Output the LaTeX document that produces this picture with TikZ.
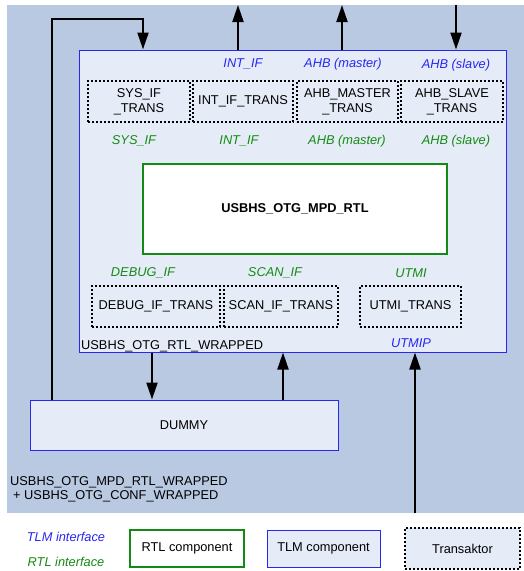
\documentclass[tikz,border=0pt]{standalone}
\usepackage{fontspec}
\setmainfont{Liberation Sans}
\usetikzlibrary{arrows.meta}

\definecolor{bgblue}{HTML}{B8C9E1}
\definecolor{tlmfill}{HTML}{E6ECF7}
\definecolor{tlmblue}{HTML}{2626F5}
\definecolor{rtlgreen}{HTML}{138A13}

\begin{document}
\begin{tikzpicture}[x=1pt,y=-1pt]
    \tikzstyle{every node}=[font=\fontsize{12.8}{15}\selectfont, inner sep=0pt, align=center, text=black]
    \tikzstyle{tlm}=[rectangle, draw=tlmblue, fill=tlmfill, line width=1pt]
    \tikzstyle{rtl}=[rectangle, draw=rtlgreen, fill=white, line width=2pt]
    \tikzstyle{trans}=[rectangle, draw=black, fill=tlmfill, line width=1.6pt, dash pattern=on 2pt off 2pt]
    \tikzstyle{tlmif}=[text=tlmblue, font=\fontsize{12.8}{15}\selectfont\itshape]
    \tikzstyle{rtlif}=[text=rtlgreen, font=\fontsize{12.8}{15}\selectfont\itshape]
    \tikzstyle{arr}=[black, line width=2pt, -{Triangle[length=17pt,width=11pt]}]

    \useasboundingbox (0,0) rectangle (524,571);
    \fill[bgblue] (7,5) rectangle (524,513);

    % wrapped rtl
    \node[tlm, minimum width=427pt, minimum height=302pt] (wrapped) at (292.5,201) {};
    \node[anchor=west] (wrappedname) at (81,346) {USBHS\_OTG\_RTL\_WRAPPED};

    \node[trans, minimum width=102pt, minimum height=41pt] (sysif) at (139,101.5) {SYS\_IF\\\_TRANS};
    \node[trans, minimum width=100pt, minimum height=41pt] (intif) at (243,101.5) {INT\_IF\_TRANS};
    \node[trans, minimum width=101pt, minimum height=41pt] (ahbm) at (347.5,101.5) {AHB\_MASTER\\\_TRANS};
    \node[trans, minimum width=102pt, minimum height=41pt] (ahbs) at (452,101.5) {AHB\_SLAVE\\\_TRANS};

    \node[tlmif] (lintif) at (243,64) {INT\_IF};
    \node[tlmif] (lahbm) at (343,64) {AHB (master)};
    \node[tlmif] (lahbs) at (456,65) {AHB (slave)};

    \node[rtlif] (rsysif) at (134,141) {SYS\_IF};
    \node[rtlif] (rintif) at (239,141) {INT\_IF};
    \node[rtlif] (rahbm) at (347,141) {AHB (master)};
    \node[rtlif] (rahbs) at (456,141) {AHB (slave)};

    \node[rtl, minimum width=304pt, minimum height=90pt, font=\fontsize{12.8}{15}\selectfont\bfseries] (mpd) at (295,209) {USBHS\_OTG\_MPD\_RTL};

    \node[rtlif] (rdebug) at (143,273) {DEBUG\_IF};
    \node[rtlif] (rscan) at (275,273) {SCAN\_IF};
    \node[rtlif] (rutmi) at (411,273) {UTMI};

    \node[trans, minimum width=128pt, minimum height=41pt] (debug) at (156,306.5) {DEBUG\_IF\_TRANS};
    \node[trans, minimum width=114pt, minimum height=41pt] (scan) at (281,306.5) {SCAN\_IF\_TRANS};
    \node[trans, minimum width=101pt, minimum height=41pt] (utmi) at (410.5,306.5) {UTMI\_TRANS};

    \node[tlmif] (lutmip) at (411,343) {UTMIP};

    % dummy
    \node[tlm, minimum width=308pt, minimum height=50pt] (dummy) at (184,425) {DUMMY};

    \node[anchor=north west, align=left, font=\fontsize{12.8}{14}\selectfont] (toplevel) at (10,476)
        {USBHS\_OTG\_MPD\_RTL\_WRAPPED\\\hspace*{3pt}+ USBHS\_OTG\_CONF\_WRAPPED};

    % connections
    \coordinate (loop) at (143,19);
    \coordinate (ointif) at (238,5);
    \coordinate (oahbm) at (342,5);
    \coordinate (iahbs) at (456,5);
    \coordinate (iutmip) at (415,513);

    \draw[arr] ([xshift=22pt]dummy.north west) |- (loop) -- (loop |- wrapped.north);
    \draw[arr] (ointif |- wrapped.north) -- (ointif);
    \draw[arr] (oahbm |- wrapped.north) -- (oahbm);
    \draw[arr] (iahbs) -- (iahbs |- wrapped.north);
    \draw[arr] ([xshift=-140.5pt]wrapped.south) -- ([xshift=-32pt]dummy.north);
    \draw[arr] ([xshift=99pt]dummy.north) -- ([xshift=-9.5pt]wrapped.south);
    \draw[arr] (iutmip) -- (iutmip |- wrapped.south);

    % legend
    \node[tlmif] (ltlm) at (66,537) {TLM interface};
    \node[rtlif] (lrtl) at (66,562) {RTL interface};
    \node[rtl, minimum width=114pt, minimum height=37pt] (rtlcomp) at (187,548.5) {RTL component};
    \node[tlm, minimum width=113pt, minimum height=37pt] (tlmcomp) at (323.5,548.5) {TLM component};
    \node[trans, minimum width=115pt, minimum height=41pt] (transcomp) at (462.5,548.5) {Transaktor};
\end{tikzpicture}
\end{document}
